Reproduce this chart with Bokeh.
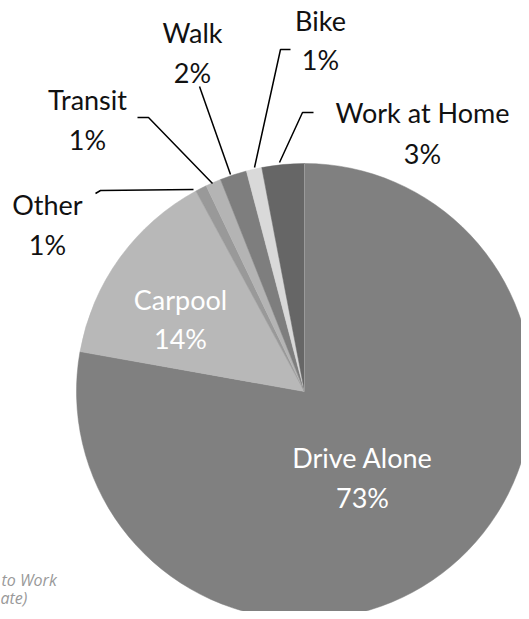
import numpy as np
from bokeh.plotting import figure
from bokeh.models import ColumnDataSource, Range1d
from bokeh.core.properties import value
from bokeh.embed import file_html
from bokeh.resources import INLINE

# ---- data ----
categories = ["Drive Alone", "Carpool", "Other", "Transit", "Walk", "Bike", "Work at Home"]
shares = [77.8, 14.3, 0.8, 1.1, 1.9, 1.1, 3.0]
pct_labels = ["73%", "14%", "1%", "1%", "2%", "1%", "3%"]
colors = ["#808080", "#b8b8b8", "#999999", "#b4b4b4", "#7e7e7e", "#d9d9d9", "#666666"]
footer_lines = ["to Work", "ate)"]

W, H = 521, 611
TXT_DY = 11  # baseline correction for text rendering
def fx(px):
    return px
def fy(py):
    return H - py

p = figure(width=W, height=H, output_backend="svg", toolbar_location=None,
           x_range=Range1d(0, W), y_range=Range1d(0, H), min_border=0)
p.axis.visible = False
p.grid.visible = False
p.outline_line_color = None
p.background_fill_color = "white"

frac = np.array(shares) / np.sum(shares)
cum = np.concatenate([[0], np.cumsum(frac)])
start = np.pi / 2 - 2 * np.pi * cum[:-1]
end = np.pi / 2 - 2 * np.pi * cum[1:]
cx, cy, r = fx(304), fy(391), 228
src = ColumnDataSource(dict(start=start, end=end, color=colors, cat=categories))
p.wedge(x=cx, y=cy, radius=r, start_angle="start", end_angle="end", direction="clock",
        fill_color="color", line_color="color", line_width=0.5, source=src)
# light separator at top
p.segment(x0=[cx], y0=[cy], x1=[cx], y1=[cy + r], line_color="#9a9a9a", line_width=1)

# leader lines (page px)
leaders = [
    [(95, 193), (100, 190), (193, 189)],
    [(137, 117), (148, 117), (212, 183)],
    [(199, 86), (230, 174)],
    [(290, 49), (280, 49), (254, 167)],
    [(313, 112), (302, 112), (279, 162)],
]
p.multi_line(xs=[[fx(a) for a, b in L] for L in leaders],
             ys=[[fy(b) for a, b in L] for L in leaders],
             line_color="black", line_width=1.5)

# label positions (page px): center x, name baseline, pct baseline, colour
lab_pos = {
    "Drive Alone": (362, 468, 508, "white"),
    "Carpool": (180, 310, 349, "white"),
    "Other": (47, 215, 255, "#111111"),
    "Transit": (87, 110, 150, "#111111"),
    "Walk": (192, 43, 83, "#111111"),
    "Bike": (320, 31, 70, "#111111"),
    "Work at Home": (422, 123, 164, "#111111"),
}
for cat, pct in zip(categories, pct_labels):
    x, y1, y2, c = lab_pos[cat]
    p.text(x=[fx(x), fx(x)], y=[fy(y1 - TXT_DY), fy(y2 - TXT_DY)], text=[cat, pct],
           text_font=value("Lato"), text_font_size="27px", text_color=c,
           text_align="center", text_baseline="alphabetic")

# footer (only the visible part of the source note)
p.text(x=[fx(1), fx(0)], y=[fy(590 - TXT_DY), fy(608 - TXT_DY)], text=footer_lines,
       text_font=value("Open Sans"), text_font_style="italic", text_font_size="16px",
       text_color="#999999", text_align="left", text_baseline="alphabetic")

open("out.html", "w").write(file_html(p, INLINE))
